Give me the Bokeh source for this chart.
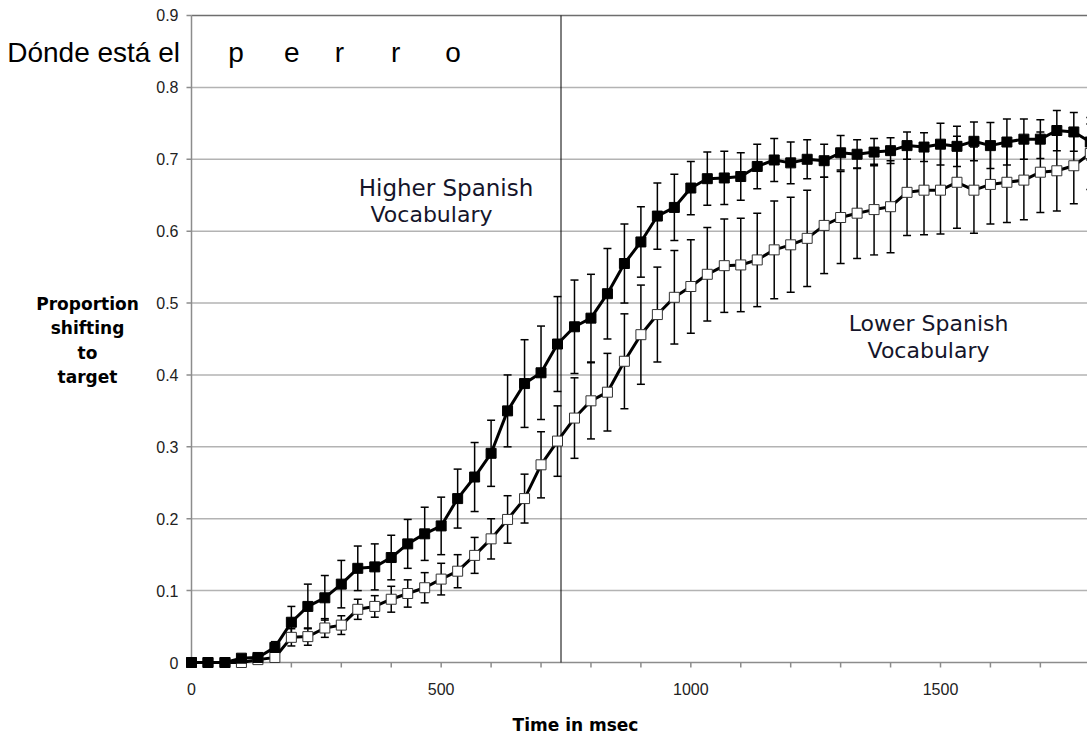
from bokeh.plotting import figure
from bokeh.models import Range1d
from bokeh.core.properties import value
from bokeh.embed import file_html
from bokeh.resources import INLINE
import numpy as np

# ---------------- data ----------------
TIME_MS = [0, 33, 67, 100, 133, 167, 200, 233, 267, 300, 333, 367, 400, 433, 467, 500,
           533, 567, 600, 633, 667, 700, 733, 767, 800, 833, 867, 900, 933, 967, 1000,
           1033, 1067, 1100, 1133, 1167, 1200, 1233, 1267, 1300, 1333, 1367, 1400, 1433,
           1467, 1500, 1533, 1567, 1600, 1633, 1667, 1700, 1733, 1767, 1800]

HIGHER_MEAN = [0, 0, 0, 0.006, 0.007, 0.021, 0.056, 0.078, 0.090, 0.109, 0.131, 0.133,
               0.146, 0.165, 0.179, 0.190, 0.228, 0.258, 0.291, 0.350, 0.388, 0.403, 0.443,
               0.467, 0.479, 0.513, 0.555, 0.585, 0.621, 0.633, 0.660, 0.673, 0.674, 0.676,
               0.690, 0.699, 0.695, 0.700, 0.698, 0.709, 0.707, 0.710, 0.712, 0.719, 0.717,
               0.721, 0.718, 0.725, 0.719, 0.724, 0.728, 0.728, 0.740, 0.738, 0.724]
HIGHER_ERR = [0, 0, 0, 0.003, 0.004, 0.008, 0.022, 0.031, 0.031, 0.033, 0.031, 0.032,
              0.031, 0.034, 0.037, 0.040, 0.041, 0.048, 0.046, 0.050, 0.061, 0.065, 0.066,
              0.065, 0.061, 0.063, 0.055, 0.049, 0.046, 0.046, 0.037, 0.037, 0.037, 0.033,
              0.031, 0.030, 0.029, 0.027, 0.023, 0.024, 0.020, 0.019, 0.018, 0.019, 0.020,
              0.029, 0.028, 0.027, 0.032, 0.032, 0.028, 0.027, 0.028, 0.027, 0.025]

LOWER_MEAN = [0, 0, 0, 0, 0.004, 0.007, 0.035, 0.036, 0.048, 0.052, 0.074, 0.078, 0.088,
              0.096, 0.104, 0.116, 0.127, 0.149, 0.172, 0.199, 0.228, 0.275, 0.308, 0.340,
              0.364, 0.376, 0.419, 0.456, 0.484, 0.508, 0.523, 0.540, 0.552, 0.553, 0.560,
              0.574, 0.581, 0.590, 0.608, 0.619, 0.625, 0.630, 0.634, 0.654, 0.657, 0.657,
              0.668, 0.657, 0.665, 0.668, 0.671, 0.682, 0.684, 0.691, 0.708]
LOWER_ERR = [0, 0, 0, 0, 0.003, 0.006, 0.012, 0.012, 0.013, 0.013, 0.014, 0.015, 0.018,
             0.019, 0.021, 0.022, 0.023, 0.025, 0.028, 0.033, 0.034, 0.046, 0.049, 0.056,
             0.053, 0.054, 0.066, 0.069, 0.066, 0.065, 0.065, 0.065, 0.065, 0.065, 0.065,
             0.068, 0.066, 0.067, 0.067, 0.064, 0.063, 0.063, 0.064, 0.060, 0.062, 0.061,
             0.064, 0.060, 0.055, 0.056, 0.055, 0.056, 0.056, 0.053, 0.050]

WORD_ONSET_MS = 740
SENTENCE_LEAD = "Dónde está el"
WORD_LETTERS = ["p", "e", "r", "r", "o"]
LETTER_MS = [89, 201, 296, 409, 524]

X_MAJOR_TICKS = [0, 500, 1000, 1500]
X_TICK_LABELS = ["0", "500", "1000", "1500"]
X_MINOR_TICKS = [100, 200, 300, 400, 600, 700, 800, 900, 1100, 1200, 1300, 1400, 1600,
                 1700, 1800]
Y_TICKS = [0, 0.1, 0.2, 0.3, 0.4, 0.5, 0.6, 0.7, 0.8, 0.9]
Y_TICK_LABELS = ["0", "0.1", "0.2", "0.3", "0.4", "0.5", "0.6", "0.7", "0.8", "0.9"]
X_END = 1800
Y_MAX = 0.9

Y_LABEL_LINES = ["Proportion", "shifting", "to", "target"]
X_LABEL = "Time in msec"
HIGHER_LABEL = ["Higher Spanish", "Vocabulary"]
LOWER_LABEL = ["Lower Spanish", "Vocabulary"]

# ---------------- scale geometry (pixels) ----------------
W, H = 1087, 738
X0_PX, Y0_PX = 191, 662          # where (0, 0) sits on the canvas
PX_PER_MS = 0.49933
PX_PER_UNIT = 718.9


def dx(px):
    return px / PX_PER_MS


def dy(px):
    return px / PX_PER_UNIT


def row(py):
    """value of a canvas row (pixels from top)"""
    return dy(Y0_PX - py)


p = figure(width=W, height=H,
           x_range=Range1d(-dx(X0_PX), dx(W - X0_PX)),
           y_range=Range1d(-dy(H - Y0_PX), dy(Y0_PX)),
           x_axis_location=None, y_axis_location=None,
           output_backend="svg", toolbar_location=None, min_border=0,
           background_fill_color="white", border_fill_color="white")
p.outline_line_color = None
p.grid.visible = False

AXIS_GRAY = "#8c8c8c"
FONT = value("Liberation Sans")

# horizontal gridlines
grid_vals = Y_TICKS[1:-1]
p.segment(x0=[0] * len(grid_vals), y0=grid_vals, x1=[X_END] * len(grid_vals), y1=grid_vals,
          line_color="#b3b3b3", line_width=1.5)
# top border
p.segment(x0=[0], y0=[Y_MAX], x1=[X_END], y1=[Y_MAX], line_color="#6e6e6e", line_width=1.5)
# axis lines
p.segment(x0=[0], y0=[0], x1=[0], y1=[Y_MAX], line_color=AXIS_GRAY, line_width=1.5)
p.segment(x0=[0], y0=[0], x1=[X_END], y1=[0], line_color=AXIS_GRAY, line_width=1.5)
# ticks
p.segment(x0=[-dx(5)] * len(Y_TICKS), y0=Y_TICKS, x1=[0] * len(Y_TICKS), y1=Y_TICKS,
          line_color=AXIS_GRAY, line_width=1.5)
xt = X_MAJOR_TICKS + X_MINOR_TICKS
p.segment(x0=xt, y0=[0] * len(xt), x1=xt, y1=[-dy(5)] * len(xt),
          line_color=AXIS_GRAY, line_width=1.5)
# tick labels
p.text(x=[-dx(13)] * len(Y_TICKS), y=Y_TICKS, text=Y_TICK_LABELS, text_align="right",
       text_baseline="middle", text_font=FONT, text_font_size="16px", text_color="#222222")
p.text(x=X_MAJOR_TICKS, y=[-dy(26)] * len(X_MAJOR_TICKS), text=X_TICK_LABELS,
       text_align="center", text_baseline="middle", text_font=FONT,
       text_font_size="16px", text_color="#222222")

# word onset line
p.segment(x0=[WORD_ONSET_MS], y0=[0], x1=[WORD_ONSET_MS], y1=[Y_MAX],
          line_color="black", line_width=1)

t = np.array(TIME_MS, dtype=float)
series = [(np.array(LOWER_MEAN), np.array(LOWER_ERR), "white", "#333333"),
          (np.array(HIGHER_MEAN), np.array(HIGHER_ERR), "black", "black")]

# error bars
for m, e, _, _ in series:
    up, lo = m + e, m - e
    p.segment(x0=t, y0=lo, x1=t, y1=up, line_color="black", line_width=1.5)
    p.scatter(x=np.concatenate([t, t]), y=np.concatenate([up, lo]), marker="dash",
              size=8, line_color="black", line_width=1.5)

# lines and markers
for m, e, fill, edge in series:
    p.line(t, m, line_color="black", line_width=3)
    p.scatter(t, m, marker="square", size=10, fill_color=fill, line_color=edge,
              line_width=1)

# ---------------- texts ----------------
lead_y = row(52)
p.text(x=[-dx(11.5)], y=[lead_y], text=[SENTENCE_LEAD], text_align="right",
       text_baseline="middle", text_font=FONT, text_font_size="28px",
       text_color="black")
p.text(x=LETTER_MS, y=[lead_y] * len(LETTER_MS), text=WORD_LETTERS, text_align="center",
       text_baseline="middle", text_font=FONT, text_font_size="28px",
       text_color="black")

ANN_FONT = value("DejaVu Sans")
p.text(x=[dx(445.5 - X0_PX)], y=[row(187)], text=HIGHER_LABEL[:1], text_align="center",
       text_baseline="middle", text_font=ANN_FONT, text_font_size="23px",
       text_color="#15152a")
p.text(x=[dx(431 - X0_PX)], y=[row(214)], text=HIGHER_LABEL[1:], text_align="center",
       text_baseline="middle", text_font=ANN_FONT, text_font_size="22px",
       text_color="#15152a")
p.text(x=[1476, 1476], y=[row(323), row(350)], text=LOWER_LABEL, text_align="center",
       text_baseline="middle", text_font=ANN_FONT, text_font_size="22px",
       text_color="#15152a")

p.text(x=[-dx(104)] * len(Y_LABEL_LINES), y=[row(303), row(327), row(352), row(376)],
       text=Y_LABEL_LINES, text_align="center", text_baseline="middle",
       text_font=ANN_FONT, text_font_style="bold", text_font_size="17px",
       text_color="black")
p.text(x=[769], y=[row(724)], text=[X_LABEL], text_align="center",
       text_baseline="middle", text_font=ANN_FONT, text_font_style="bold",
       text_font_size="17px", text_color="black")

open("out.html", "w").write(file_html(p, INLINE))
